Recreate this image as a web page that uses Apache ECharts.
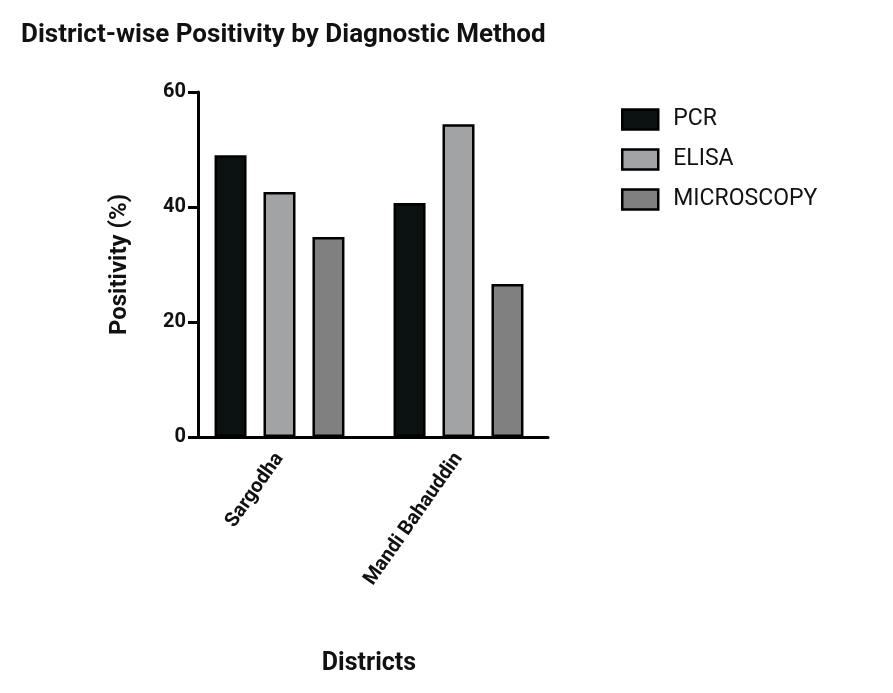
<!DOCTYPE html>
<html><head><meta charset="utf-8">
<script src="https://cdn.jsdelivr.net/npm/echarts@6/dist/echarts.min.js"></script>
<style>html,body{margin:0;background:#fff}#c{width:893px;height:693px}</style>
</head><body><div id="c"></div>
<script>
var districts = ['Sargodha', 'Mandi Bahauddin'];
var pcr = [49, 40.7];
var elisa = [42.6, 54.4];
var microscopy = [34.8, 26.6];
var yTicks = [0, 20, 40, 60];

var font = 'Roboto, "Liberation Sans", sans-serif';
var chart = echarts.init(document.getElementById('c'));
function bar(name, data, color) {
	return {
		name: name, type: 'bar', data: data, barWidth: 32, barGap: '53%',
		itemStyle: { color: color, borderColor: '#000', borderWidth: 2.5 }
	};
}
chart.setOption({
	animation: false,
	title: {
		text: 'District-wise Positivity by Diagnostic Method', left: 16, top: 17,
		textStyle: { fontFamily: font, fontSize: 26, fontWeight: 'bold', color: '#111' }
	},
	legend: {
		orient: 'vertical', left: 616, top: 103, itemGap: 17,
		itemWidth: 36, itemHeight: 20, icon: 'rect',
		itemStyle: { borderColor: '#000', borderWidth: 2.5 },
		textStyle: { fontFamily: font, fontSize: 23, color: '#111', padding: [0, 0, 0, 10] },
		data: ['PCR', 'ELISA', 'MICROSCOPY']
	},
	grid: { left: 190, top: 92, width: 358, height: 345 },
	xAxis: {
		type: 'category', data: districts,
		name: 'Districts', nameLocation: 'middle', nameGap: 214,
		nameTextStyle: { fontFamily: font, fontSize: 25, fontWeight: 'bold', color: '#111' },
		axisLine: { lineStyle: { color: '#000', width: 3 } },
		axisTick: { alignWithLabel: true, length: 12, lineStyle: { width: 3, color: '#000' } },
		axisLabel: { rotate: 55, fontFamily: font, fontSize: 20, fontWeight: 'bold', color: '#111', margin: 18 }
	},
	yAxis: {
		type: 'value', min: yTicks[0], max: yTicks[yTicks.length - 1], interval: 20, offset: -8,
		name: 'Positivity (%)', nameLocation: 'middle', nameGap: 66,
		nameTextStyle: { fontFamily: font, fontSize: 24, fontWeight: 'bold', color: '#111' },
		axisLine: { show: true, lineStyle: { color: '#000', width: 3 } },
		axisTick: { show: true, length: 10, lineStyle: { width: 3, color: '#000' } },
		splitLine: { show: false },
		axisLabel: { fontFamily: font, fontSize: 20, fontWeight: 'bold', color: '#111', margin: 12 }
	},
	series: [
		bar('PCR', pcr, '#0b1011'),
		bar('ELISA', elisa, '#a2a3a5'),
		bar('MICROSCOPY', microscopy, '#808080')
	]
});
</script></body></html>
